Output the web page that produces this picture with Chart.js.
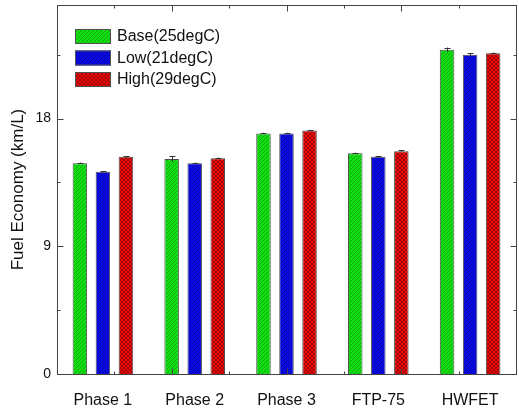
<!DOCTYPE html>
<html>
<head>
<meta charset="utf-8">
<script src="https://cdn.jsdelivr.net/npm/chart.js@4.4.0/dist/chart.umd.min.js"></script>
<style>
  html, body { margin: 0; padding: 0; background: #fff; }
  #wrap { width: 519px; height: 409px; }
</style>
</head>
<body>
<div id="wrap"><canvas id="chart" width="519" height="409"></canvas></div>
<script>
// data
const categories = ['Phase 1', 'Phase 2', 'Phase 3', 'FTP-75', 'HWFET'];
const seriesNames = ['Base(25degC)', 'Low(21degC)', 'High(29degC)'];
const baseVals = [14.85, 15.15, 16.95, 15.55, 22.85];
const lowVals  = [14.25, 14.85, 16.95, 15.3, 22.5];
const highVals = [15.3, 15.2, 17.15, 15.7, 22.6];
const baseErr = [0.05, 0.2, 0.05, 0.05, 0.15];
const lowErr  = [0.05, 0.05, 0.05, 0.05, 0.1];
const highErr = [0.05, 0.05, 0.05, 0.05, 0.05];
const yTicks = [0, 9, 18];

const FONT = '"Liberation Sans", Arial, sans-serif';

// hatch patterns like the Origin fill
function hatch(bg, fg, kind) {
  const c = document.createElement('canvas');
  c.width = 4; c.height = 4;
  const g = c.getContext('2d');
  g.fillStyle = bg;
  g.fillRect(0, 0, 4, 4);
  g.strokeStyle = fg;
  g.lineWidth = 1;
  g.beginPath();
  if (kind === 'cross') {
    g.moveTo(0, 0); g.lineTo(4, 4);
    g.moveTo(4, 0); g.lineTo(0, 4);
  } else {
    g.moveTo(0, 4); g.lineTo(4, 0);
    g.moveTo(-1, 1); g.lineTo(1, -1);
    g.moveTo(3, 5); g.lineTo(5, 3);
  }
  g.stroke();
  return g.createPattern(c, 'repeat');
}

const fills = [
  hatch('#10e010', '#14a814', 'diag'),
  hatch('#0a0ae6', '#0606a0', 'diag'),
  hatch('#ee0a0a', '#a00808', 'cross')
];
const values = [baseVals, lowVals, highVals];
const errors = [baseErr, lowErr, highErr];

const datasets = seriesNames.map((name, i) => ({
  label: name,
  data: values[i],
  errors: errors[i],
  backgroundColor: fills[i],
  borderColor: '#505050',
  borderWidth: 1,
  categoryPercentage: 0.753,
  barPercentage: 0.63
}));

// error bars, frame, inward ticks and the in-plot legend
const decor = {
  id: 'decor',
  afterDatasetsDraw(chart) {
    const ctx = chart.ctx;
    const y = chart.scales.y;
    ctx.save();
    ctx.strokeStyle = '#333';
    ctx.lineWidth = 1;
    chart.data.datasets.forEach((ds, i) => {
      const meta = chart.getDatasetMeta(i);
      meta.data.forEach((bar, j) => {
        const v = ds.data[j], e = ds.errors[j];
        const top = y.getPixelForValue(v + e);
        const bot = y.getPixelForValue(v - e);
        const x = Math.round(bar.x) + 0.5;
        ctx.beginPath();
        ctx.moveTo(x, top); ctx.lineTo(x, bot);
        ctx.moveTo(x - 3, Math.round(top) + 0.5); ctx.lineTo(x + 3, Math.round(top) + 0.5);
        ctx.stroke();
      });
    });
    ctx.restore();
  },
  afterDraw(chart) {
    const ctx = chart.ctx;
    const a = chart.chartArea;
    const y = chart.scales.y;
    ctx.save();
    ctx.strokeStyle = '#444';
    ctx.lineWidth = 1;
    const L = Math.round(a.left) + 0.5, R = Math.round(a.right) + 0.5;
    const T = Math.round(a.top) + 0.5, B = Math.round(a.bottom) + 0.5;
    ctx.strokeRect(L, T, R - L, B - T);
    ctx.beginPath();
    // y major and minor ticks, inward on both sides
    for (let v = 0; v <= y.max; v += 4.5) {
      const p = Math.round(y.getPixelForValue(v)) + 0.5;
      const len = (v % 9 === 0) ? 6 : 3;
      ctx.moveTo(L, p); ctx.lineTo(L + len, p);
      ctx.moveTo(R, p); ctx.lineTo(R - len, p);
    }
    // x ticks, inward top and bottom
    for (let k = 1; k < 8; k++) {
      const p = Math.round(a.left + k * a.width / 8) + 0.5;
      const len = (k % 2 === 0) ? 6 : 3;
      ctx.moveTo(p, B); ctx.lineTo(p, B - len);
      ctx.moveTo(p, T); ctx.lineTo(p, T + len);
    }
    ctx.stroke();

    // legend
    ctx.font = '16px ' + FONT;
    ctx.textBaseline = 'middle';
    ctx.textAlign = 'left';
    chart.data.datasets.forEach((ds, i) => {
      const bx = a.left + 18, by = a.top + 24 + i * 21.5;
      ctx.fillStyle = ds.backgroundColor;
      ctx.fillRect(bx, by, 36, 15);
      ctx.strokeStyle = '#505050';
      ctx.strokeRect(bx + 0.5, by + 0.5, 35, 14);
      ctx.fillStyle = '#111';
      ctx.fillText(ds.label, bx + 42, by + 8);
    });
    ctx.restore();
  }
};

new Chart(document.getElementById('chart'), {
  type: 'bar',
  data: { labels: categories, datasets },
  options: {
    responsive: false,
    animation: false,
    devicePixelRatio: 1,
    layout: { padding: { top: 5, right: 3, left: 0, bottom: 0 } },
    plugins: { legend: { display: false }, tooltip: { enabled: false } },
    scales: {
      x: {
        afterFit: s => { s.height = 35; s.paddingLeft = 0; s.paddingRight = 0; },
        grid: { display: false, drawTicks: false },
        border: { display: false },
        ticks: {
          color: '#111',
          padding: 17,
          font: { size: 16, family: FONT }
        }
      },
      y: {
        min: 0,
        max: 26,
        afterBuildTicks: s => { s.ticks = yTicks.map(v => ({ value: v })); },
        afterFit: s => { s.width = 57; s.paddingTop = 0; s.paddingBottom = 0; },
        grid: { display: false, drawTicks: false },
        border: { display: false },
        ticks: {
          color: '#111',
          padding: 6,
          font: { size: 14, family: FONT }
        },
        title: {
          display: true,
          text: 'Fuel Economy (km/L)',
          color: '#111',
          padding: { top: 8, bottom: 0 },
          font: { size: 17, family: FONT }
        }
      }
    }
  },
  plugins: [decor]
});
</script>
</body>
</html>
